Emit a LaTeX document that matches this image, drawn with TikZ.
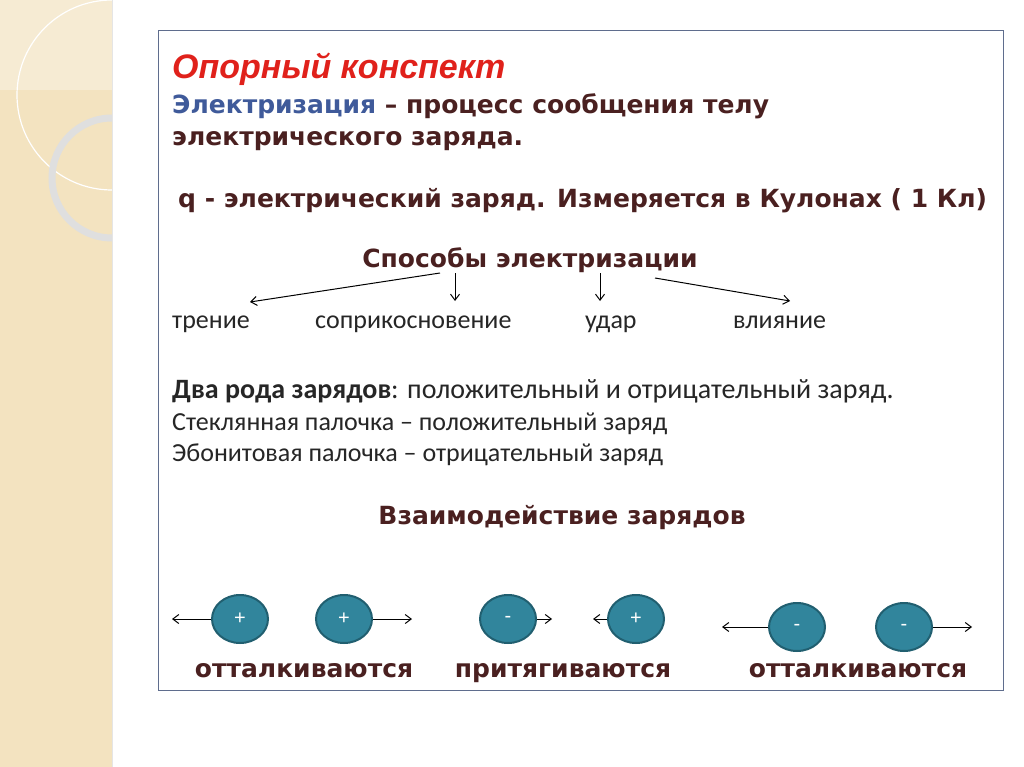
\documentclass[tikz,border=0pt]{standalone}
\usepackage{fontspec}
\setmainfont{Liberation Sans}
\newfontfamily\carlitof{Carlito}
\newfontfamily\dvb{DejaVu Sans}
\usetikzlibrary{arrows.meta,shapes.geometric}
\definecolor{strip}{HTML}{F3E3C0}
\definecolor{ttl}{HTML}{E0211B}
\definecolor{blu}{HTML}{3F5A9A}
\definecolor{brn}{HTML}{4A2020}
\definecolor{teal}{HTML}{31859C}
\definecolor{tealb}{HTML}{215F70}
\tikzset{
 x=1pt,y=-1pt,
 hd/.style={font=\dvb\bfseries\fontsize{25}{30}\selectfont,text=brn,anchor=base west,inner sep=0},
 cb/.style={font=\carlitof\fontsize{26}{30}\selectfont,text=black!85,anchor=base west,inner sep=0},
 chg/.style={ellipse,fill=teal,draw=tealb,line width=2pt,minimum width=56pt,minimum height=48pt,inner sep=0,text=white,font=\fontsize{20}{22}\selectfont},
 ar/.style={-{Straight Barb[length=6pt,width=9pt]},line width=1pt},
 res/.style={font=\dvb\bfseries\fontsize{25}{30}\selectfont,text=brn,anchor=base,inner sep=0}
}
\begin{document}
\begin{tikzpicture}
\useasboundingbox (0,0) rectangle (1024,767);
\fill[white] (0,0) rectangle (1024,767);
\fill[strip] (0,0) rectangle (112,767);
\begin{scope}
\clip (0,0) rectangle (112,767);
\fill[white,opacity=0.3] (0,0) rectangle (112,90);
\draw[white,line width=1.2pt] (112,95) circle (95);
\draw[gray!25,line width=7pt] (112,178) circle (60);
\end{scope}
\draw[white!80!gray,line width=1pt] (112,0) -- (112,767);
\draw[blu!50!gray,line width=0.8pt] (158,30) rectangle (1003,690);
\node[anchor=base west,inner sep=0,font=\bfseries\itshape\fontsize{34}{38}\selectfont,text=ttl] (t) at (172,79) {Опорный конспект};
\node[hd] (d1) at (172,114) {\textcolor{blu}{Электризация} – процесс сообщения телу};
\node[hd] (d2) at (172,146) {электрического заряда.};
\node[hd] (q) at (178,208) {q - электрический заряд. Измеряется в Кулонах ( 1 Кл)};
\node[hd,anchor=base] (sp) at (530,267) {Способы электризации};
\node[cb] (a) at (172,328) {трение};
\node[cb] (b) at (315,328) {соприкосновение};
\node[cb] (c) at (585,328) {удар};
\node[cb] (d) at (733,328) {влияние};
\coordinate (s1) at (440,273);\coordinate (s2) at (455,273);
\coordinate (s3) at (600,273);\coordinate (s4) at (655,278);
\draw[ar] (s1) -- (250,302);
\draw[ar] (s2) -- (455,301);
\draw[ar] (s3) -- (600,301);
\draw[ar] (s4) -- (790,301);
\node[cb,font=\carlitof\fontsize{28}{32}\selectfont] (e) at (172,398) {\textbf{Два рода зарядов}: положительный и отрицательный заряд.};
\node[cb] (f) at (172,430) {Стеклянная палочка – положительный заряд};
\node[cb] (g) at (172,461) {Эбонитовая палочка – отрицательный заряд};
\node[hd,anchor=base] (v) at (562,524) {Взаимодействие зарядов};
\node[chg] (c1) at (240,619) {+};
\node[chg] (c2) at (344,619) {+};
\node[chg] (c3) at (508,619) {-};
\node[chg] (c4) at (636,619) {+};
\node[chg] (c5) at (797,627) {-};
\node[chg] (c6) at (904,627) {-};
\coordinate (e1) at (172,619);\coordinate (e2) at (412,619);
\coordinate (e3) at (552,619);\coordinate (e4) at (593,619);
\coordinate (e5) at (722,627);\coordinate (e6) at (972,627);
\draw[ar] (c1) -- (e1);
\draw[ar] (c2) -- (e2);
\draw[ar] (c3) -- (e3);
\draw[ar] (c4) -- (e4);
\draw[ar] (c5) -- (e5);
\draw[ar] (c6) -- (e6);
\node[res] (r1) at (304,677) {отталкиваются};
\node[res] (r2) at (563,677) {притягиваются};
\node[res] (r3) at (858,677) {отталкиваются};
\end{tikzpicture}
\end{document}
